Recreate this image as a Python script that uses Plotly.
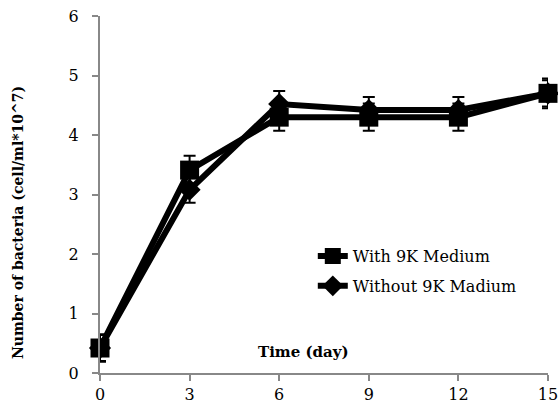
import plotly.graph_objects as go

days = [0, 3, 6, 9, 12, 15]
with_9k = [0.42, 3.41, 4.30, 4.30, 4.30, 4.70]
with_9k_err = [0.23, 0.24, 0.23, 0.23, 0.23, 0.25]
without_9k = [0.42, 3.08, 4.52, 4.42, 4.42, 4.70]
without_9k_err = [0.22, 0.22, 0.22, 0.22, 0.22, 0.22]
x_ticks = [0, 3, 6, 9, 12, 15]
y_ticks = [0, 1, 2, 3, 4, 5, 6]

FONT = "DejaVu Serif"
AX = "#888888"

fig = go.Figure()
fig.add_trace(go.Scatter(
    x=days, y=without_9k, name="Without 9K Madium", mode="lines+markers",
    line=dict(color="black", width=6),
    marker=dict(symbol="diamond", size=17, color="black"),
    error_y=dict(type="data", array=without_9k_err, color="black", thickness=2, width=6),
    legendgroup="b", legendrank=2, cliponaxis=False,
))
fig.add_trace(go.Scatter(
    x=days, y=with_9k, name="With 9K Medium", mode="lines+markers",
    line=dict(color="black", width=6),
    marker=dict(symbol="square", size=19, color="black"),
    error_y=dict(type="data", array=with_9k_err, color="black", thickness=2, width=6),
    legendgroup="a", legendrank=1, cliponaxis=False,
))

fig.add_annotation(text="<b>Number of bacteria (cell/ml*10^7)</b>", textangle=-90,
                   xref="paper", yref="paper", x=-0.183, y=0.42, showarrow=False,
                   xanchor="center", yanchor="middle",
                   font=dict(family=FONT, size=14, color="black"))
fig.add_annotation(text="<b>Time (day)</b>", xref="paper", yref="paper",
                   x=0.455, y=0.059, showarrow=False, xanchor="center", yanchor="middle",
                   font=dict(family=FONT, size=15, color="black"))

fig.update_layout(
    width=558, height=406,
    margin=dict(l=100, r=10, t=16, b=33, autoexpand=False),
    paper_bgcolor="white", plot_bgcolor="white",
    font=dict(family=FONT, size=16, color="black"),
    showlegend=True,
    legend=dict(x=0.475, y=0.375, xanchor="left", yanchor="top",
                traceorder="grouped", tracegroupgap=6,
                bgcolor="rgba(0,0,0,0)", font=dict(family=FONT, size=16)),
    xaxis=dict(range=[0, 15], tickvals=x_ticks, showgrid=False, zeroline=False,
               showline=True, linecolor=AX, linewidth=2, ticks="outside",
               ticklen=6, tickcolor=AX, tickwidth=2, automargin=False,
               ticklabeloverflow="allow"),
    yaxis=dict(range=[0, 6], tickvals=y_ticks,
               ticktext=[f"{v}\u00a0\u00a0" for v in y_ticks],
               showgrid=False, zeroline=False,
               showline=True, linecolor=AX, linewidth=2, ticks="outside",
               ticklen=6, tickcolor=AX, tickwidth=2, automargin=False,
               ticklabeloverflow="allow"),
    xaxis2=dict(range=[0, 15], tickvals=x_ticks, overlaying="x", anchor="y",
                side="bottom", showgrid=False, zeroline=False, showline=False,
                ticks="inside", ticklen=6, tickcolor=AX, tickwidth=2,
                showticklabels=False, automargin=False),
    yaxis2=dict(range=[0, 6], tickvals=y_ticks, overlaying="y", anchor="x",
                side="left", showgrid=False, zeroline=False, showline=False,
                ticks="inside", ticklen=6, tickcolor=AX, tickwidth=2,
                showticklabels=False, automargin=False),
)

fig.write_html("out.html", config={"displayModeBar": False},
               post_script="document.body.style.margin='0';document.body.style.overflow='hidden';")
